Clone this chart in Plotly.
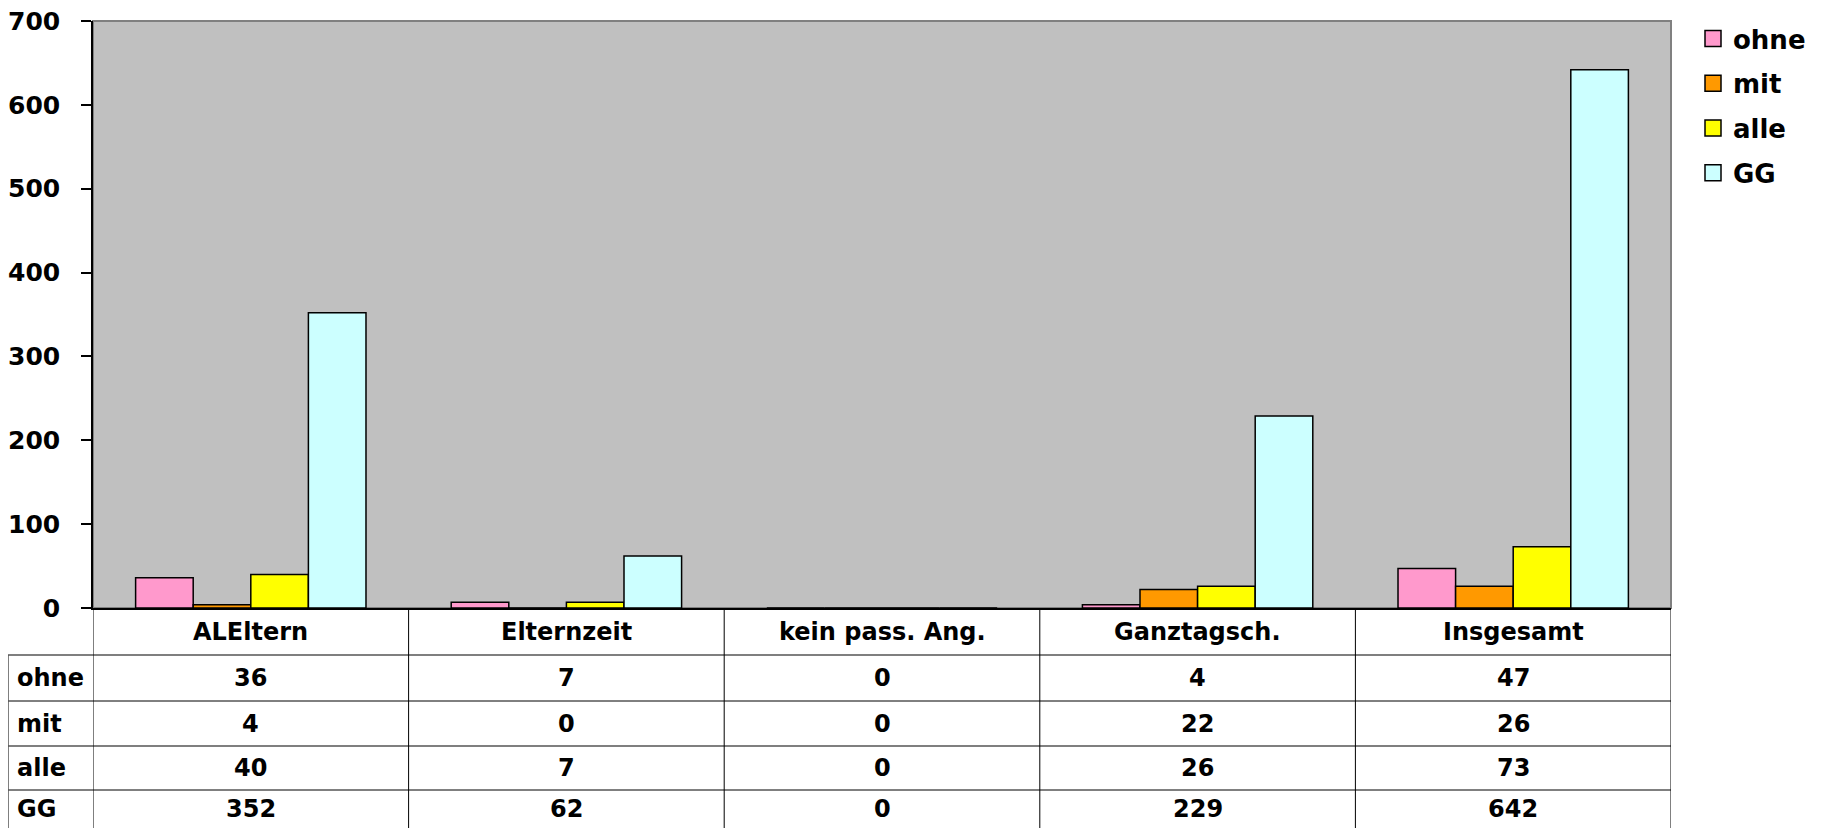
import plotly.graph_objects as go

categories = ["ALEltern", "Elternzeit", "kein pass. Ang.", "Ganztagsch.", "Insgesamt"]
series_names = ["ohne", "mit", "alle", "GG"]
ohne = [36, 7, 0, 4, 47]
mit = [4, 0, 0, 22, 26]
alle = [40, 7, 0, 26, 73]
gg = [352, 62, 0, 229, 642]
y_ticks = [0, 100, 200, 300, 400, 500, 600, 700]

series_values = [ohne, mit, alle, gg]
colors = ["#FF99CC", "#FF9900", "#FFFF00", "#CCFFFF"]

# page coordinates (page body has an 8px default margin)
OFF = 8
PAGE_W, PAGE_H = 1827, 828
W, H = PAGE_W - OFF, PAGE_H - OFF
L, R, T, B = 93, 1671, 21, 608          # plot area in page pixels
plot_h = B - T
plot_w = R - L
FONT = "DejaVu Sans"


def py(p):
    return (B - p) / plot_h


def px(p):
    return (p - L) / plot_w


fig = go.Figure()
for i, (name, vals) in enumerate(zip(series_names, series_values)):
    fig.add_trace(go.Bar(
        x=categories, y=vals, name=name,
        marker=dict(color=colors[i], line=dict(color="black", width=1.5)),
        legendgroup=name, showlegend=False,
        hoverinfo="x+y+name",
    ))
# legend entries with larger square swatches
for i, name in enumerate(series_names):
    fig.add_trace(go.Scatter(
        x=[None], y=[None], mode="markers", name=name, legendgroup=name,
        marker=dict(symbol="square", size=16, color=colors[i],
                    line=dict(color="black", width=1.5)),
        showlegend=True,
    ))

shapes = []
shapes.append(dict(type="rect", xref="paper", yref="paper", x0=0, x1=1, y0=0, y1=1,
                   line=dict(color="#808080", width=2), layer="below"))
row_lines = [655, 701, 746, 790]
for k, yl in enumerate(row_lines):
    shapes.append(dict(type="line", xref="paper", yref="paper",
                       x0=px(8), x1=1, y0=py(yl), y1=py(yl),
                       line=dict(color="#555555" if k % 2 == 0 else "black",
                                 width=1.5 if k % 2 == 0 else 1)))
for k in range(len(categories) + 1):
    shapes.append(dict(type="line", xref="x", yref="paper",
                       x0=k - 0.5, x1=k - 0.5, y0=0, y1=py(PAGE_H + 5),
                       line=dict(color="black", width=1)))
shapes.append(dict(type="line", xref="paper", yref="paper",
                   x0=px(8), x1=px(8), y0=py(655), y1=py(PAGE_H + 5),
                   line=dict(color="#555555", width=1.5)))

annotations = []
tfont = dict(family=FONT, size=24, color="black", weight="bold")
header_y = py((B + 655) / 2)
for j, c in enumerate(categories):
    annotations.append(dict(x=j, y=header_y, xref="x", yref="paper", text=c,
                            showarrow=False, font=tfont, xanchor="center", yanchor="middle"))
row_centers = [678, 723.5, 768, 809]
for r, (name, vals) in enumerate(zip(series_names, series_values)):
    yc = py(row_centers[r])
    annotations.append(dict(x=px(15), y=yc, xref="paper", yref="paper", text=name,
                            showarrow=False, font=tfont, xanchor="left", yanchor="middle"))
    for j, v in enumerate(vals):
        annotations.append(dict(x=j, y=yc, xref="x", yref="paper", text=str(v),
                                showarrow=False, font=tfont, xanchor="center", yanchor="middle"))

fig.update_layout(
    width=W, height=H,
    margin=dict(l=L - OFF, r=PAGE_W - R, t=T - OFF, b=PAGE_H - B, pad=0, autoexpand=False),
    paper_bgcolor="white",
    plot_bgcolor="#C0C0C0",
    barmode="group",
    bargap=0.27,
    bargroupgap=0,
    showlegend=True,
    legend=dict(
        x=px(1693), y=py(15), xanchor="left", yanchor="top",
        font=dict(family=FONT, size=26, color="black", weight="bold"),
        traceorder="grouped", tracegroupgap=8,
        bgcolor="rgba(0,0,0,0)",
    ),
    xaxis=dict(
        type="category", range=[-0.5, len(categories) - 0.5],
        showticklabels=False, ticks="", showgrid=False, zeroline=False,
        showline=True, linecolor="black", linewidth=1.5, automargin=False,
    ),
    yaxis=dict(
        range=[0, 700], tickvals=y_ticks, ticktext=[str(t) for t in y_ticks],
        ticks="outside", ticklen=10, tickcolor="black", tickwidth=1.5,
        showgrid=False, zeroline=False,
        showline=True, linecolor="black", linewidth=1.5,
        tickfont=dict(family=FONT, size=25, color="black", weight="bold"),
        ticklabelstandoff=16, automargin=False, ticklabeloverflow="allow",
    ),
    shapes=shapes,
    annotations=annotations,
)

fig.write_html("out.html")
